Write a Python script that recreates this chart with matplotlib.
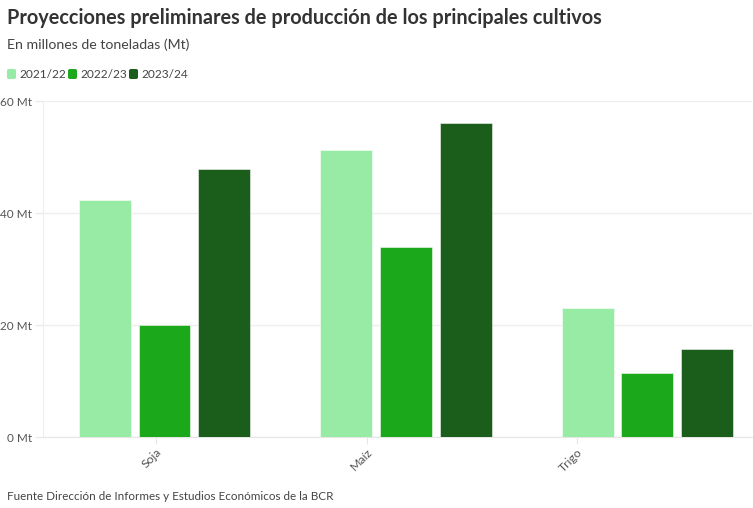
import matplotlib
matplotlib.use("Agg")
import matplotlib.pyplot as plt
from matplotlib.patches import FancyBboxPatch
import numpy as np

plt.rcParams['font.family'] = ['Lato', 'DejaVu Sans']

categories = ["Soja", "Maíz", "Trigo"]
series_names = ["2021/22", "2022/23", "2023/24"]
values_2021 = [42.3, 51.2, 23.0]
values_2022 = [20.0, 34.0, 11.5]
values_2023 = [47.9, 56.1, 15.7]
series_values = [values_2021, values_2022, values_2023]
colors = ["#97EBA5", "#1BA81B", "#1B5E1C"]
y_ticks = [0, 20, 40, 60]
y_tick_labels = ["0 Mt", "20 Mt", "40 Mt", "60 Mt"]

W, H = 753, 508
fig = plt.figure(figsize=(W / 100, H / 100), dpi=100)
ax = fig.add_axes([43 / W, 71 / H, (752 - 43) / W, (437 - 101) / H])

x = np.arange(len(categories))
offset = 0.248
width = 0.215
for k, (vals, c) in enumerate(zip(series_values, colors)):
    ax.bar(x + (k - 1) * offset, vals, width=width, color=c,
           edgecolor=(1, 1, 1, 0.6), linewidth=0.6, zorder=3)

ax.set_ylim(0, 60)
ax.set_xlim(-0.503, 2.433)
ax.set_yticks(y_ticks)
ax.set_yticklabels(y_tick_labels)
ax.grid(axis='y', color='#efefef', linewidth=1, zorder=0)
ax.tick_params(axis='y', length=6, color='#e6e6e6', labelsize=8.5, labelcolor='#555555', pad=2)

tick_pos = x * (210.5 / 241.5) - 0.035
ax.set_xticks(tick_pos)
ax.set_xticklabels(categories, rotation=45, ha='right', va='top', rotation_mode='anchor')
ax.tick_params(axis='x', length=5, color='#e6e6e6', labelsize=8.8, labelcolor='#555555', pad=2)

for s in ['top', 'right']:
    ax.spines[s].set_visible(False)
ax.spines['left'].set_color('#eeeeee')
ax.spines['bottom'].set_color('#e6e6e6')

fig.text(7 / W, 1 - 18 / H, "Proyecciones preliminares de producción de los principales cultivos",
         fontsize=14.3, fontweight='bold', color='#333333', va='center', ha='left')
fig.text(7 / W, 1 - 45 / H, "En millones de toneladas (Mt)",
         fontsize=10.2, color='#444444', va='center', ha='left')

lx = 7
for name, c in zip(series_names, colors):
    p = FancyBboxPatch(((lx) / W, (H - 79) / H), 9 / W, 10 / H,
                       boxstyle="round,pad=0,rounding_size=0.003",
                       transform=fig.transFigure, facecolor=c, edgecolor='none')
    fig.patches.append(p)
    t = fig.text((lx + 12) / W, 1 - 74 / H, name, fontsize=8.6, color='#444444',
                 va='center', ha='left')
    lx += 12 + 46 + 3

fig.text(7 / W, 1 - 496 / H, "Fuente Dirección de Informes y Estudios Económicos de la BCR",
         fontsize=8.4, color='#444444', va='center', ha='left')

fig.savefig("out.png", dpi=100)
